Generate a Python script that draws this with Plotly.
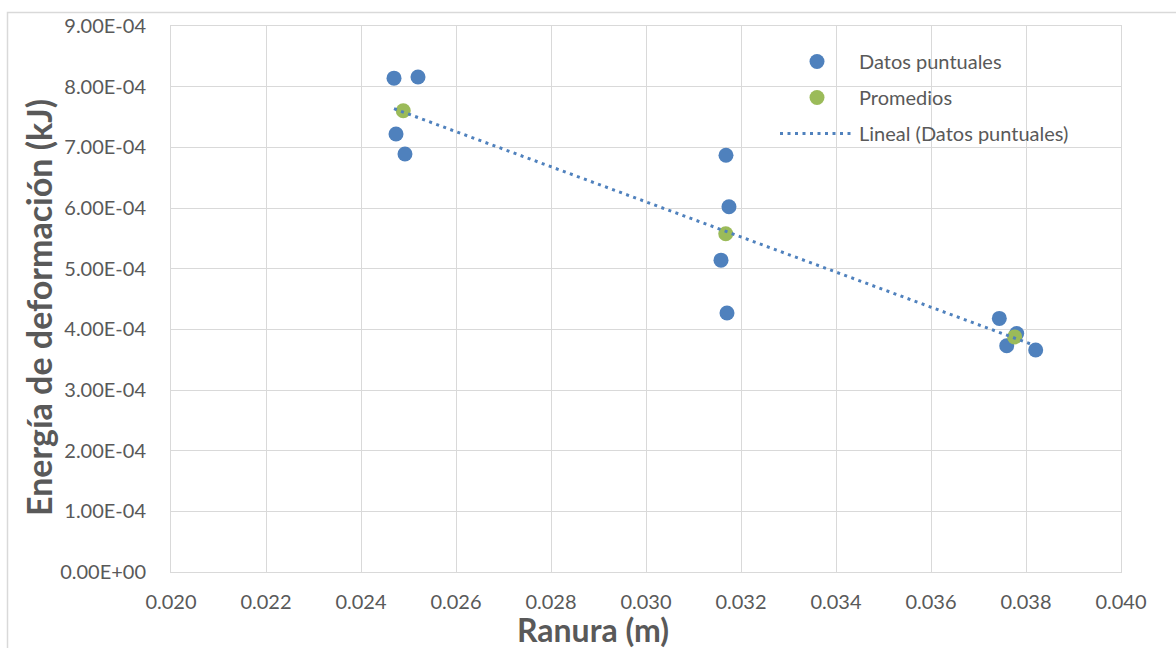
import numpy as np
import plotly.graph_objects as go

# Measured slot width (m) and deformation energy (kJ), four repeats per slot
ranura = [0.024695, 0.025200, 0.024737, 0.024926,
          0.031684, 0.031747, 0.031579, 0.031705,
          0.037438, 0.037804, 0.037594, 0.038204]
energia = [8.14e-4, 8.16e-4, 7.22e-4, 6.89e-4,
           6.87e-4, 6.02e-4, 5.14e-4, 4.27e-4,
           4.18e-4, 3.93e-4, 3.73e-4, 3.66e-4]
grupos = [0, 0, 0, 0, 1, 1, 1, 1, 2, 2, 2, 2]

y_tickvals = [0, 1e-4, 2e-4, 3e-4, 4e-4, 5e-4, 6e-4, 7e-4, 8e-4, 9e-4]
y_ticktext = ["0.00E+00", "1.00E-04", "2.00E-04", "3.00E-04", "4.00E-04",
              "5.00E-04", "6.00E-04", "7.00E-04", "8.00E-04", "9.00E-04"]
x_tickvals = [0.020, 0.022, 0.024, 0.026, 0.028, 0.030,
              0.032, 0.034, 0.036, 0.038, 0.040]

BLUE = "#4F81BD"
GREEN = "#9BBB59"
GRID = "#D9D9D9"
TEXT = "#595959"
FONT = "Lato, 'Open Sans', sans-serif"

x = np.array(ranura)
y = np.array(energia)
g = np.array(grupos)

# Group means
prom_x = [x[g == k].mean() for k in sorted(set(grupos))]
prom_y = [y[g == k].mean() for k in sorted(set(grupos))]

# Least-squares linear trend over the point data
m, b = np.polyfit(x, y, 1)
tx = np.array([x.min(), x.max()])
ty = m * tx + b

fig = go.Figure()
fig.add_trace(go.Scatter(
    x=ranura, y=energia, mode="markers", name="Datos puntuales",
    legendgroup="a",
    marker=dict(color=BLUE, size=15, line=dict(width=0)),
))
fig.add_trace(go.Scatter(
    x=prom_x, y=prom_y, mode="markers", name="Promedios",
    legendgroup="b",
    marker=dict(color=GREEN, size=15, line=dict(width=0)),
))
fig.add_trace(go.Scatter(
    x=tx, y=ty, mode="lines", name="Lineal (Datos puntuales)",
    legendgroup="c",
    line=dict(color=BLUE, width=3, dash="3px,4.5px"),
))

L, R, T, B = 171, 55, 26, 76
W, H = 1176, 648
pw, ph = W - L - R, H - T - B

fig.update_layout(
    width=W, height=H,
    margin=dict(l=L, r=R, t=T, b=B),
    paper_bgcolor="white", plot_bgcolor="white",
    font=dict(family=FONT, size=20, color=TEXT),
    showlegend=True,
    legend=dict(
        x=(775 - L) / pw, y=1 - (42 - T) / ph,
        xanchor="left", yanchor="top",
        bgcolor="rgba(0,0,0,0)",
        font=dict(family=FONT, size=20, color=TEXT),
        itemwidth=74,
        tracegroupgap=7,
    ),
    xaxis=dict(
        range=[0.020, 0.040], tickvals=x_tickvals, tickformat=".3f",
        showgrid=True, gridcolor=GRID, gridwidth=1,
        showline=True, linecolor=GRID, linewidth=1, mirror=True,
        zeroline=False, ticks="", ticklabelstandoff=12,
        tickfont=dict(family=FONT, size=20, color=TEXT),
    ),
    yaxis=dict(
        range=[0, 9e-4], tickvals=y_tickvals, ticktext=y_ticktext,
        showgrid=True, gridcolor=GRID, gridwidth=1,
        showline=True, linecolor=GRID, linewidth=1, mirror=True,
        zeroline=False, ticks="", ticklabelstandoff=20,
        tickfont=dict(family=FONT, size=20, color=TEXT),
    ),
    annotations=[
        dict(text="<b>Ranura (m)</b>", xref="paper", yref="paper",
             x=(593 - L) / pw, y=-(629 - (T + ph)) / ph,
             xanchor="center", yanchor="middle", showarrow=False,
             font=dict(family=FONT, size=32, color=TEXT)),
        dict(text="<b>Energía de deformación (kJ)</b>", xref="paper", yref="paper",
             x=-(L - 38) / pw, y=1 - (308 - T) / ph, textangle=-90,
             xanchor="center", yanchor="middle", showarrow=False,
             font=dict(family=FONT, size=34, color=TEXT)),
    ],
    shapes=[
        dict(type="rect", xref="paper", yref="paper",
             x0=-(L - 7.5) / pw, x1=2, y0=-2, y1=1 + (T - 12.5) / ph,
             line=dict(color=GRID, width=1.5), fillcolor="rgba(0,0,0,0)",
             layer="below"),
    ],
)

fig.write_html("out.html")
